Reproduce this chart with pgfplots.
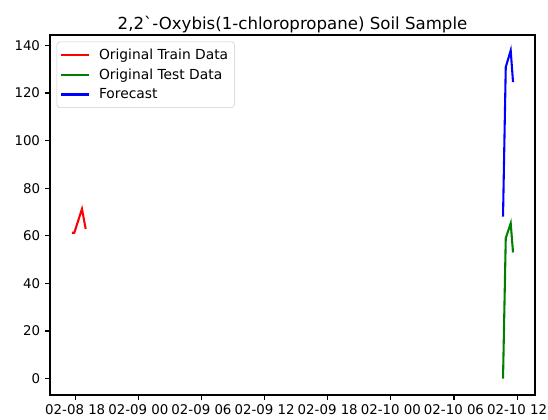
\documentclass[border=0pt]{standalone}
\usepackage{fontspec}
\setmainfont{DejaVu Sans}
\usepackage{pgfplots}
\pgfplotsset{compat=1.18}
\definecolor{mplgreen}{RGB}{0,128,0}
\begin{document}
\begin{tikzpicture}
\begin{axis}[
  at={(36bp,18bp)}, anchor=south west,
  scale only axis,
  width=349.2bp, height=259.2bp,
  xmin=-2.4, xmax=43.7,
  ymin=-6.9, ymax=144.4,
  axis line style={black, line width=0.8bp},
  tick align=outside,
  major tick length=3.5bp,
  tick style={black, line width=0.8bp},
  xtick={0,6,12,18,24,30,36,42},
  xticklabels={02-08 18,02-09 00,02-09 06,02-09 12,02-09 18,02-10 00,02-10 06,02-10 12},
  ytick={0,20,40,60,80,100,120,140},
  xtick pos=bottom, ytick pos=left,
  /pgf/number format/assume math mode=true,
  tick label style={font=\fontsize{9.65}{12}\selectfont, inner sep=0pt},
  xticklabel style={anchor=north, yshift=-3.5bp},
  yticklabel style={anchor=east, xshift=-3.5bp},
  title={2,2\textasciigrave-Oxybis(1-chloropropane) Soil Sample},
  every axis title/.style={font=\fontsize{12}{14}\selectfont, at={(0.5,1)}, anchor=base, yshift=4.3bp, inner sep=0pt},
  legend style={at={(0,1)}, anchor=north west, xshift=4.8bp, yshift=-4.8bp,
    draw=black!20, rounded corners=2bp, fill=white, fill opacity=0.8, text opacity=1,
    font=\fontsize{10}{12}\selectfont, inner xsep=2.5bp, inner ysep=3bp, row sep=1.2bp},
  legend cell align=left,
  legend image code/.code={\draw[#1] (0bp,0bp) -- (20bp,0bp);},
  /tikz/every odd column/.append style={column sep=4.3bp},
  every axis plot/.append style={line width=1.5bp},
]
\addplot[red, mark=none] coordinates {(-0.31,61.3) (-0.09,61.3) (0.64,71.3) (0.99,62.9)};
\addlegendentry{Original Train Data}
\addplot[mplgreen, mark=none] coordinates {(40.66,0) (40.92,59.0) (41.39,65.3) (41.61,53.0)};
\addlegendentry{Original Test Data}
\addplot[blue, mark=none] coordinates {(40.66,68.1) (40.92,130.9) (41.39,137.9) (41.61,124.6)};
\addlegendentry{Forecast}
\end{axis}
\pgfresetboundingbox
\useasboundingbox (0,0) rectangle (394.56bp,302.4bp);
\end{tikzpicture}
\end{document}
